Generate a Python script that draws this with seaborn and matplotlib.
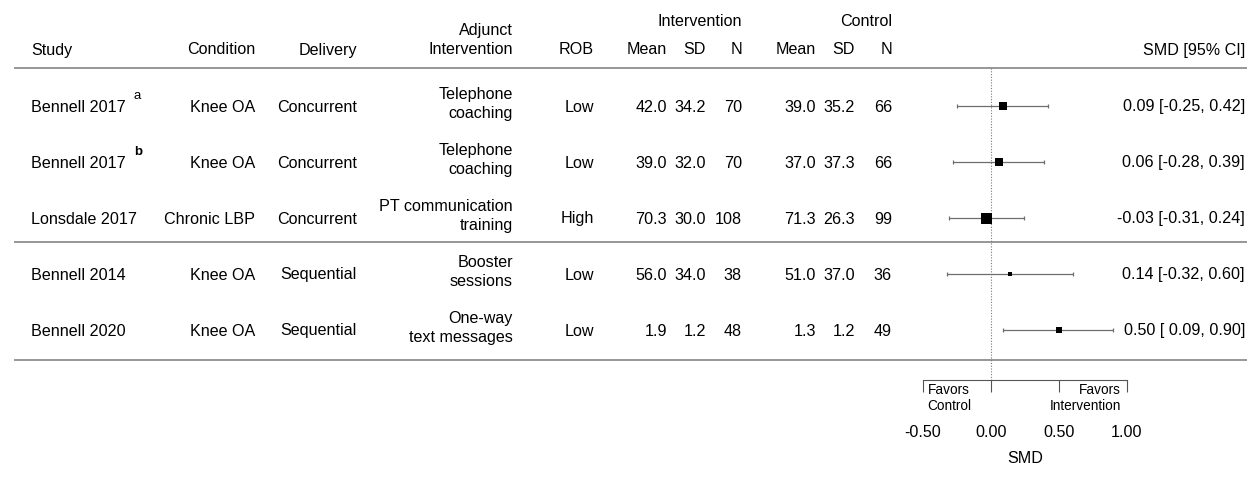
import numpy as np
import pandas as pd
import matplotlib
matplotlib.use("Agg")
import matplotlib.pyplot as plt
from matplotlib.transforms import blended_transform_factory
import seaborn as sns

# ---- study data -------------------------------------------------------------
studies = ["Bennell 2017", "Bennell 2017", "Lonsdale 2017", "Bennell 2014", "Bennell 2020"]
footnotes = ["a", "b", "", "", ""]
conditions = ["Knee OA", "Knee OA", "Chronic LBP", "Knee OA", "Knee OA"]
delivery = ["Concurrent", "Concurrent", "Concurrent", "Sequential", "Sequential"]
adjunct = ["Telephone\ncoaching", "Telephone\ncoaching", "PT communication\ntraining",
           "Booster\nsessions", "One-way\ntext messages"]
rob = ["Low", "Low", "High", "Low", "Low"]
int_mean = [42.0, 39.0, 70.3, 56.0, 1.9]
int_sd = [34.2, 32.0, 30.0, 34.0, 1.2]
int_n = [70, 70, 108, 38, 48]
ctl_mean = [39.0, 37.0, 71.3, 51.0, 1.3]
ctl_sd = [35.2, 37.3, 26.3, 37.0, 1.2]
ctl_n = [66, 66, 99, 36, 49]
smd = [0.09, 0.06, -0.03, 0.14, 0.50]
ci_lo = [-0.25, -0.28, -0.31, -0.32, 0.09]
ci_hi = [0.42, 0.39, 0.24, 0.60, 0.90]
x_ticks = [-0.5, 0.0, 0.5, 1.0]

df = pd.DataFrame({"study": studies, "smd": smd, "lo": ci_lo, "hi": ci_hi})
df["row"] = np.arange(len(df))

# square size follows study precision (1/SE from the CI width)
se = (df["hi"] - df["lo"]) / 3.92
prec = 1 / se
t = (prec - prec.min()) / (prec.max() - prec.min())
side_px = 4 + 7 * t
df["area"] = (side_px * 0.72) ** 2

# ---- figure & layout ----------------------------------------------------------
sns.set_theme(style="white")
plt.rcParams["font.family"] = ["Liberation Sans", "DejaVu Sans"]
plt.rcParams["axes.unicode_minus"] = False

W, H = 1248, 489
FS = 11.6
GRAY = "#7a7a7a"
fig = plt.figure(figsize=(W / 100, H / 100), dpi=100)

ROW0, PITCH = 107, 56          # pixel centre of first row, row spacing
AX_BOTTOM = 381                # pixel position of the SMD axis line
ZERO_PX, UNIT_PX = 991, 136    # pixel of SMD=0, pixels per SMD unit
x_left = -(ZERO_PX - 889) / UNIT_PX
x_right = x_left + 272 / UNIT_PX
ax = fig.add_axes([889 / W, (H - AX_BOTTOM) / H, 272 / W, AX_BOTTOM / H])
ax.set_xlim(x_left, x_right)
ax.set_ylim((AX_BOTTOM - ROW0) / PITCH, -ROW0 / PITCH)


def prow(px):
    """row coordinate for a pixel height"""
    return (px - ROW0) / PITCH


tr = blended_transform_factory(fig.transFigure, ax.transData)


def put(xpx, y, s, ha="right", **kw):
    kw.setdefault("fontsize", FS)
    ax.text(xpx / W, y, s, transform=tr, ha=ha, va="center", clip_on=False,
            color="black", **kw)


# ---- header -------------------------------------------------------------------
hy = prow(50)
put(31, hy, "Study", ha="left")
put(255, hy, "Condition")
put(357, hy, "Delivery")
put(513, prow(31), "Adjunct")
put(513, hy, "Intervention")
put(594, hy, "ROB")
put(742, prow(22), "Intervention")
put(892, prow(22), "Control")
for xpx, lab in [(667, "Mean"), (706, "SD"), (742, "N"),
                 (816, "Mean"), (855, "SD"), (892, "N")]:
    put(xpx, hy, lab)
put(1245, hy, "SMD [95% CI]")

# ---- table rows -----------------------------------------------------------------
for i in range(len(studies)):
    put(31, i, studies[i], ha="left")
    if footnotes[i]:
        ax.text(134 / W, i - 0.2, footnotes[i], transform=tr, ha="left", va="center",
                fontsize=9.5, fontweight="bold" if footnotes[i] == "b" else "normal",
                clip_on=False, color="black")
    put(255, i, conditions[i])
    put(357, i, delivery[i])
    put(513, i - 0.05, adjunct[i], multialignment="right", linespacing=1.36)
    put(594, i, rob[i])
    put(667, i, f"{int_mean[i]:.1f}")
    put(706, i, f"{int_sd[i]:.1f}")
    put(742, i, f"{int_n[i]}")
    put(816, i, f"{ctl_mean[i]:.1f}")
    put(855, i, f"{ctl_sd[i]:.1f}")
    put(892, i, f"{ctl_n[i]}")
    put(1245, i, f"{smd[i]:.2f} [{ci_lo[i]:5.2f}, {ci_hi[i]:.2f}]")

# horizontal rules
for ypx in (69, 243, 361):
    ax.plot([14 / W, 1247 / W], [prow(ypx)] * 2, transform=tr, color=GRAY,
            lw=1.1, clip_on=False, solid_capstyle="butt")

# ---- forest plot ----------------------------------------------------------------
ax.vlines(0, prow(69), ax.get_ylim()[0], colors=GRAY, lw=0.8, linestyles=(0, (1, 1.5)))
ax.errorbar(df["smd"], df["row"], xerr=[df["smd"] - df["lo"], df["hi"] - df["smd"]],
            fmt="none", ecolor="#6e6e6e", elinewidth=0.9, capsize=1.6, capthick=0.9)
sns.scatterplot(data=df, x="smd", y="row", marker="s", color="black",
                s=df["area"], linewidth=0, ax=ax, zorder=3, legend=False)

# SMD axis drawn as a bracket with downward ticks
for side in ("top", "left", "right"):
    ax.spines[side].set_visible(False)
ax.spines["bottom"].set_bounds(x_ticks[0], x_ticks[-1])
ax.spines["bottom"].set_color("#555555")
ax.spines["bottom"].set_linewidth(0.8)
ax.set_xticks(x_ticks)
ax.set_xticklabels([f"{v:.2f}" for v in x_ticks])
ax.tick_params(axis="x", direction="out", length=8.6, width=0.8, colors="#555555",
               labelcolor="black", labelsize=FS, pad=23, bottom=True)
ax.set_yticks([])
ax.set_xlabel("")
ax.set_ylabel("")
ax.grid(False)

ax.text(-0.47, prow(398), "Favors\nControl", ha="left", va="center", fontsize=9.8,
        multialignment="center", linespacing=1.14, clip_on=False, color="black")
ax.text(0.955, prow(398), "Favors\nIntervention", ha="right", va="center", fontsize=9.8,
        multialignment="right", linespacing=1.14, clip_on=False, color="black")
ax.text(0.25, prow(459), "SMD", ha="center", va="center", fontsize=FS,
        clip_on=False, color="black")

fig.savefig("out.png", dpi=100)
